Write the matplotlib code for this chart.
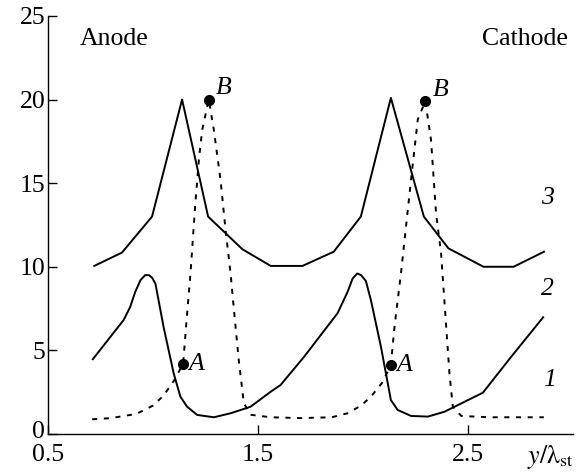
import numpy as np
import matplotlib.pyplot as plt
import matplotlib.transforms as mtransforms

plt.rcParams['font.family'] = ['Liberation Serif', 'DejaVu Serif']
plt.rcParams['mathtext.fontset'] = 'stix'

# curve 1 (dashed)
x1 = [0.71, 0.80, 0.92, 1.00, 1.05, 1.10, 1.143, 1.162, 1.178, 1.20, 1.218, 1.234, 1.265,
      1.289, 1.321, 1.345, 1.369, 1.385, 1.408, 1.432, 1.464, 1.56, 1.70, 1.85,
      1.926, 1.99, 2.037, 2.093, 2.132, 2.15, 2.18, 2.228, 2.26, 2.296,
      2.323, 2.347, 2.371, 2.411, 2.427, 2.467, 2.60, 2.86]
y1 = [0.88, 0.95, 1.2, 1.7, 2.3, 3.2, 4.2, 7.2, 9.6, 13.6, 16.4, 18.2, 20.0,
      18.2, 15.2, 12.2, 9.6, 7.4, 4.4, 1.85, 1.15, 1.0, 0.95, 1.0,
      1.24, 1.7, 2.23, 3.1, 4.15, 6.5, 9.6, 15.2, 18.8, 19.9,
      17.6, 13.2, 10.8, 3.6, 1.63, 1.08, 1.0, 1.0]

# curve 2
x2 = [0.713, 0.86, 0.891, 0.915, 0.94, 0.962, 0.98, 0.995, 1.011, 1.05, 1.098, 1.13,
      1.162, 1.21, 1.289, 1.369, 1.464, 1.56, 1.607, 1.719, 1.878, 1.926, 1.95, 1.972,
      1.99, 2.013, 2.037, 2.085, 2.132, 2.164, 2.228, 2.308, 2.387, 2.57, 2.705, 2.857]
y2 = [4.47, 6.82, 7.6, 8.5, 9.2, 9.5, 9.5, 9.35, 9.0, 6.4, 3.63, 2.23,
      1.63, 1.14, 1.0, 1.24, 1.63, 2.53, 2.93, 4.62, 7.22, 8.5, 9.3, 9.6,
      9.5, 9.15, 8.0, 5.2, 2.03, 1.44, 1.08, 1.04, 1.33, 2.47, 4.62, 6.98]

# curve 3
x3 = [0.72, 0.852, 0.995, 1.138, 1.262, 1.425, 1.56, 1.711, 1.86,
      1.989, 2.132, 2.289, 2.406, 2.573, 2.716, 2.861]
y3 = [10.05, 10.85, 13.0, 20.0, 13.0, 11.05, 10.05, 10.05, 10.9,
      13.0, 20.1, 13.0, 11.1, 10.0, 10.0, 10.9]

# points A and B on curve 1
xA = [1.143, 2.132]
yA = [4.2, 4.15]
xB = [1.265, 2.296]
yB = [20.0, 19.9]

fig = plt.figure(figsize=(5.79, 4.74), dpi=100)
ax = fig.add_axes([0.083, 0.0844, 0.907, 0.882])

lw = 1.4
ax.plot(x1, y1, color='k', lw=lw, dashes=(2.6, 3.4))
ax.plot(x2, y2, color='k', lw=lw)
ax.plot(x3, y3, color='k', lw=lw)
ax.plot(xA, yA, 'o', color='k', ms=7)
ax.plot(xB, yB, 'o', color='k', ms=7)

fs = 18.5
for xa, ya in zip(xA, yA):
    ax.annotate('A', (xa, ya), xytext=(4, 0), textcoords='offset points',
                va='center', ha='left', fontsize=fs, style='italic')
for xb, yb in zip(xB, yB):
    ax.annotate('B', (xb, yb), xytext=(5, 8), textcoords='offset points',
                va='center', ha='left', fontsize=fs, style='italic')

ax.text(2.877, 14.1, '3', fontsize=fs, style='italic', ha='center', va='center')
ax.text(2.877, 8.7, '2', fontsize=fs, style='italic', ha='center', va='center')
ax.text(2.887, 3.2, '1', fontsize=fs, style='italic', ha='center', va='center')

ax.text(0.653, 23.6, 'Anode', fontsize=fs, ha='left', va='center')
ax.text(2.975, 23.6, 'Cathode', fontsize=fs, ha='right', va='center')

ax.text(1.0, -0.022, r'$y/\mathrm{\lambda}_{\mathrm{st}}$', transform=ax.transAxes,
        ha='right', va='top', fontsize=18.5)

ax.set_xlim(0.5, 3.0)
ax.set_ylim(0, 25)
ax.set_xticks([0.5, 1.5, 2.5])
ax.set_xticklabels(['0.5', '1.5', '2.5'])
ax.set_yticks([0, 5, 10, 15, 20, 25])
ax.tick_params(direction='in', length=6.5, width=1.0, labelsize=fs)
ax.tick_params(axis='x', pad=7)
ax.tick_params(axis='y', pad=2)
for s in ['top', 'right']:
    ax.spines[s].set_visible(False)
for s in ['left', 'bottom']:
    ax.spines[s].set_linewidth(1.0)

# lift the "0" label a little so it clears "0.5"
fig.canvas.draw()
lab0 = ax.get_yticklabels()[0]
lab0.set_transform(lab0.get_transform() +
                   mtransforms.ScaledTranslation(0, 3 / 72, fig.dpi_scale_trans))

fig.savefig('out.png', dpi=100)
